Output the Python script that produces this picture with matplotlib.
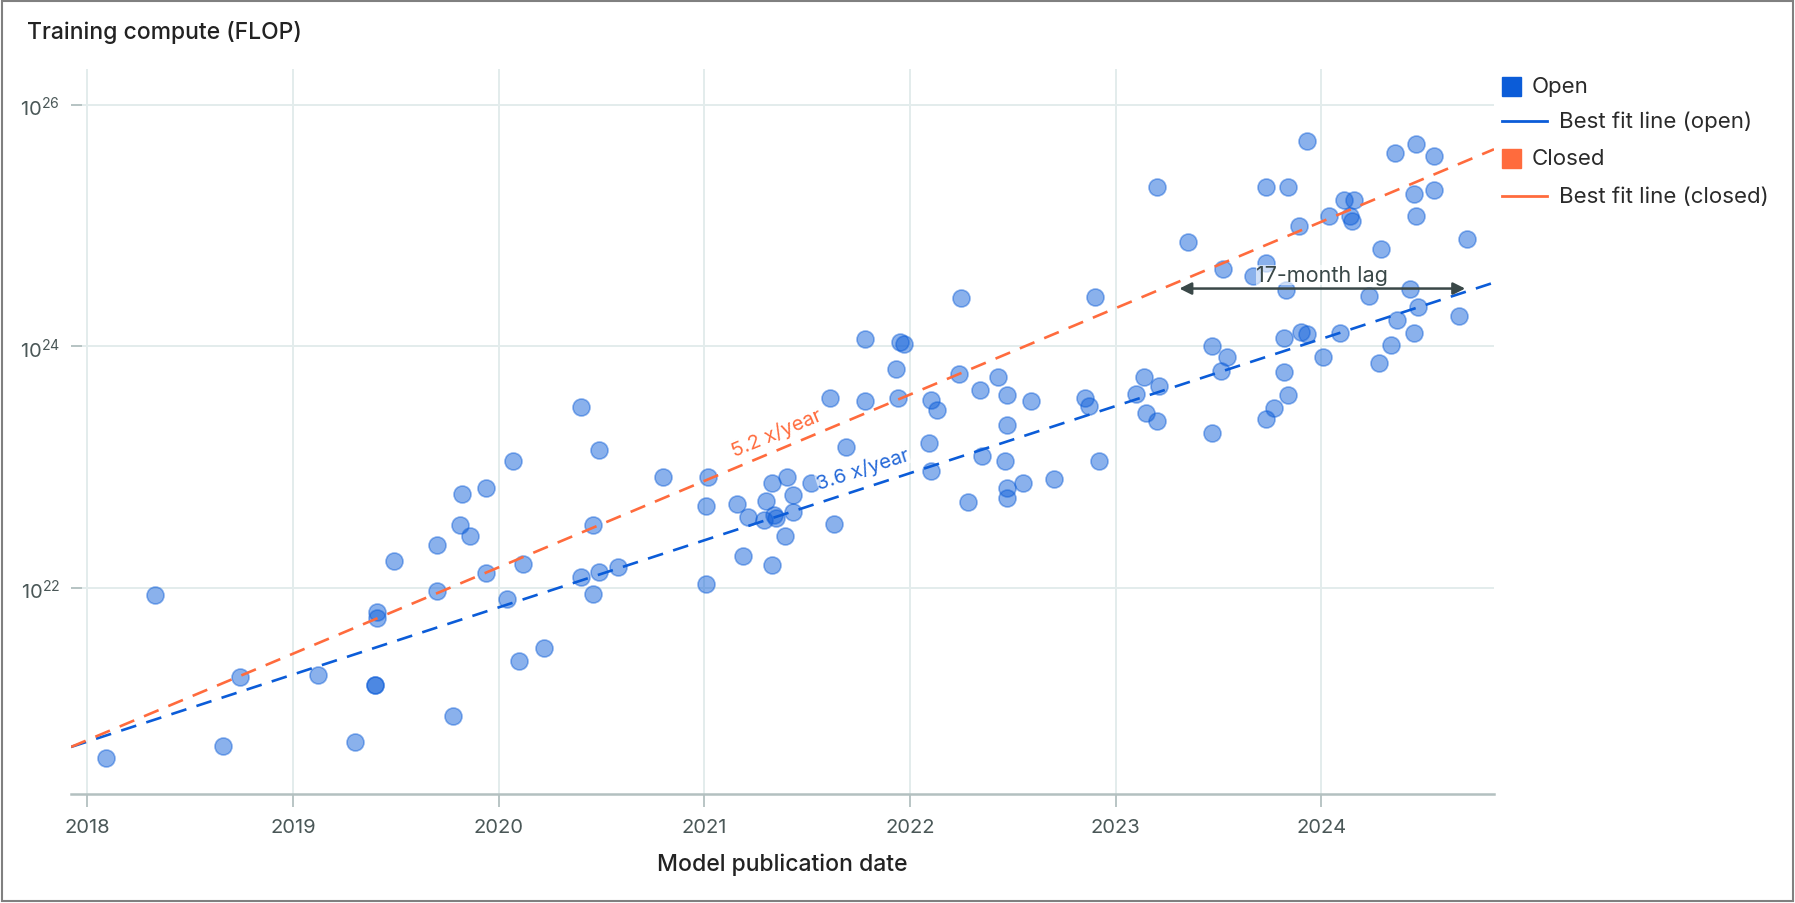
import numpy as np
import matplotlib
matplotlib.use('Agg')
import matplotlib.pyplot as plt
from matplotlib.lines import Line2D
from matplotlib.patches import Rectangle

plt.rcParams['font.family'] = ['Inter', 'DejaVu Sans']
plt.rcParams['mathtext.fontset'] = 'custom'
plt.rcParams['mathtext.rm'] = 'Inter'

# open models: publication date (decimal year) and log10 of training compute
model_date = [
    2018.09, 2018.33, 2018.66, 2018.74, 2019.12, 2019.30, 2019.40, 2019.40,
    2019.41, 2019.41, 2019.49, 2019.70, 2019.70, 2019.78, 2019.81, 2019.82,
    2019.86, 2019.94, 2019.94, 2020.04, 2020.07, 2020.10, 2020.12, 2020.22,
    2020.40, 2020.40, 2020.46, 2020.46, 2020.49, 2020.49, 2020.58, 2020.80,
    2021.01, 2021.01, 2021.02, 2021.16, 2021.19, 2021.21, 2021.29, 2021.30,
    2021.33, 2021.33, 2021.34, 2021.35, 2021.40, 2021.39, 2021.43, 2021.43,
    2021.52, 2021.61, 2021.63, 2021.69, 2021.78, 2021.78, 2021.93, 2021.94,
    2021.95, 2021.97, 2022.09, 2022.10, 2022.10, 2022.13, 2022.24, 2022.25,
    2022.28, 2022.34, 2022.35, 2022.43, 2022.46, 2022.47, 2022.47, 2022.47,
    2022.47, 2022.55, 2022.59, 2022.70, 2022.85, 2022.87, 2022.90, 2022.92,
    2023.10, 2023.14, 2023.15, 2023.20, 2023.20, 2023.21, 2023.35, 2023.47,
    2023.47, 2023.51, 2023.52, 2023.54, 2023.67, 2023.73, 2023.73, 2023.73,
    2023.77, 2023.82, 2023.82, 2023.83, 2023.84, 2023.84, 2023.89, 2023.90,
    2023.93, 2023.93, 2024.01, 2024.04, 2024.09, 2024.11, 2024.14, 2024.15,
    2024.16, 2024.23, 2024.28, 2024.29, 2024.34, 2024.36, 2024.37, 2024.43,
    2024.45, 2024.45, 2024.46, 2024.46, 2024.47, 2024.55, 2024.55, 2024.67,
    2024.71,
]
log_compute = [
    20.59, 21.94, 20.69, 21.26, 21.28, 20.72, 21.19, 21.19,
    21.80, 21.75, 22.22, 22.35, 21.97, 20.94, 22.52, 22.78,
    22.43, 22.12, 22.83, 21.91, 23.05, 21.39, 22.20, 21.50,
    23.50, 22.09, 22.52, 21.95, 23.14, 22.13, 22.17, 22.92,
    22.68, 22.03, 22.92, 22.69, 22.26, 22.59, 22.56, 22.72,
    22.19, 22.87, 22.60, 22.58, 22.92, 22.43, 22.77, 22.63,
    22.87, 23.57, 22.53, 23.17, 24.06, 23.55, 23.81, 23.57,
    24.04, 24.02, 23.20, 23.56, 22.97, 23.47, 23.77, 24.40,
    22.71, 23.64, 23.09, 23.75, 23.05, 23.60, 23.35, 22.83,
    22.74, 22.87, 23.55, 22.90, 23.57, 23.51, 24.41, 23.05,
    23.61, 23.75, 23.45, 25.32, 23.38, 23.67, 24.87, 24.00,
    23.28, 23.80, 24.64, 23.91, 24.58, 25.32, 24.69, 23.40,
    23.49, 24.07, 23.79, 24.47, 25.32, 23.60, 25.00, 24.12,
    25.70, 24.10, 23.91, 25.08, 24.11, 25.21, 25.08, 25.04,
    25.21, 24.42, 23.86, 24.81, 24.01, 25.60, 24.22, 24.48,
    25.26, 24.11, 25.08, 25.68, 24.33, 25.58, 25.30, 24.25,
    24.89,
]

# best fit lines: growth per year, shared starting point
open_rate = 3.6
closed_rate = 5.2
fit_start = 2017.92
fit_end = 2024.84
fit_start_log = 20.68

# lag annotation
lag_from = 2023.31
lag_to = 2024.70
lag_log = 24.48
lag_text = '17-month lag'

year_ticks = [2018, 2019, 2020, 2021, 2022, 2023, 2024]
flop_ticks = [1e22, 1e24, 1e26]
flop_labels = [r'$\mathregular{10^{22}}$', r'$\mathregular{10^{24}}$', r'$\mathregular{10^{26}}$']

BLUE = '#0B5CD8'
ORANGE = '#FF6B3D'
GRID = '#E3ECEC'
AXIS = '#B3C0C0'
TICKTXT = '#4A5757'
DARK = '#222222'

W, H = 1795, 904
fig = plt.figure(figsize=(W / 100, H / 100), dpi=100)
ax = fig.add_axes([71 / W, 1 - 795 / H, (1494 - 71) / W, (795 - 70) / H])

# points
ax.scatter(model_date, 10 ** np.array(log_compute), s=150,
           facecolor=matplotlib.colors.to_rgba(BLUE, 0.48),
           edgecolor=matplotlib.colors.to_rgba(BLUE, 0.45),
           linewidth=1.2, zorder=3)

# fit lines
xs = np.array([fit_start, fit_end])
for rate, col in [(open_rate, BLUE), (closed_rate, ORANGE)]:
    ys = 10 ** (fit_start_log + np.log10(rate) * (xs - fit_start))
    ax.plot(xs, ys, color=col, lw=1.9, dashes=(6, 4), zorder=4)

ax.set_yscale('log')
ax.set_xlim(2017.92, 2024.84)
ax.set_ylim(10 ** 20.29, 10 ** 26.3)


# rate labels along the lines
def line_angle(rate):
    x0, x1 = 2020.0, 2023.0
    p0 = ax.transData.transform((x0, 10 ** (fit_start_log + np.log10(rate) * (x0 - fit_start))))
    p1 = ax.transData.transform((x1, 10 ** (fit_start_log + np.log10(rate) * (x1 - fit_start))))
    return np.degrees(np.arctan2(p1[1] - p0[1], p1[0] - p0[0]))


ax.text(2021.35, 10 ** 23.29, f'{closed_rate} x/year', color=ORANGE, fontsize=14.5,
        rotation=line_angle(closed_rate), rotation_mode='anchor', ha='center', va='center',
        bbox=dict(facecolor='white', alpha=0.6, edgecolor='none', pad=0), zorder=5)
ax.text(2021.77, 10 ** 22.99, f'{open_rate} x/year', color='#2468D8', fontsize=14.5,
        rotation=line_angle(open_rate), rotation_mode='anchor', ha='center', va='center',
        bbox=dict(facecolor='white', alpha=0.6, edgecolor='none', pad=0), zorder=5)

# lag arrow
ax.annotate('', xy=(lag_from, 10 ** lag_log), xytext=(lag_to, 10 ** lag_log),
            arrowprops=dict(arrowstyle='<|-|>', color='#3A4848', lw=1.8,
                            mutation_scale=18, shrinkA=0, shrinkB=0), zorder=6)
ax.text((lag_from + lag_to) / 2, 10 ** (lag_log + 0.11), lag_text, color='#3A4848',
        fontsize=15.5, ha='center', va='center',
        bbox=dict(facecolor='white', alpha=0.6, edgecolor='none', pad=0), zorder=6)

# axes styling
ax.set_xticks(year_ticks)
ax.set_xticklabels([str(y) for y in year_ticks])
ax.set_yticks(flop_ticks)
ax.set_yticklabels(flop_labels)
ax.minorticks_off()
ax.grid(True, color=GRID, lw=1.4, zorder=0)
ax.set_axisbelow(True)
for s in ['left', 'right', 'top']:
    ax.spines[s].set_visible(False)
ax.spines['bottom'].set_color(AXIS)
ax.spines['bottom'].set_linewidth(1.8)
ax.tick_params(axis='x', length=9, width=1.3, color=AXIS, labelcolor=TICKTXT,
               labelsize=14.5, pad=8)
ax.tick_params(axis='y', direction='in', length=8, width=1.3, color=AXIS,
               labelcolor=TICKTXT, labelsize=14.5, pad=8)

ax.set_xlabel('Model publication date', fontsize=16.5, fontweight='medium', color=DARK,
              labelpad=12)
fig.text(27 / W, 1 - 33 / H, 'Training compute (FLOP)', fontsize=16.5, fontweight='medium',
         color=DARK, ha='left', va='center')


# legend drawn by hand at the right
def fx(x):
    return x / W


def fy(y):
    return 1 - y / H


legend_rows = [('square', BLUE, 'Open', 87), ('line', BLUE, 'Best fit line (open)', 122),
               ('square', ORANGE, 'Closed', 159), ('line', ORANGE, 'Best fit line (closed)', 197)]
for kind, col, label, y in legend_rows:
    if kind == 'square':
        fig.add_artist(Rectangle((fx(1502), fy(y + 9.5)), 19 / W, 19 / H,
                                 transform=fig.transFigure, color=col))
        fig.text(fx(1532), fy(y), label, fontsize=16, color='#2A2A2A', va='center')
    else:
        fig.add_artist(Line2D([fx(1502), fx(1547)], [fy(y), fy(y)],
                              transform=fig.transFigure, color=col, lw=2))
        fig.text(fx(1559), fy(y), label, fontsize=16, color='#2A2A2A', va='center')

# outer frame
fig.add_artist(Rectangle((fx(2), fy(902)), 1791 / W, 900 / H, transform=fig.transFigure,
                         fill=False, edgecolor='#808080', lw=1.5))

fig.savefig('out.png', dpi=100)
